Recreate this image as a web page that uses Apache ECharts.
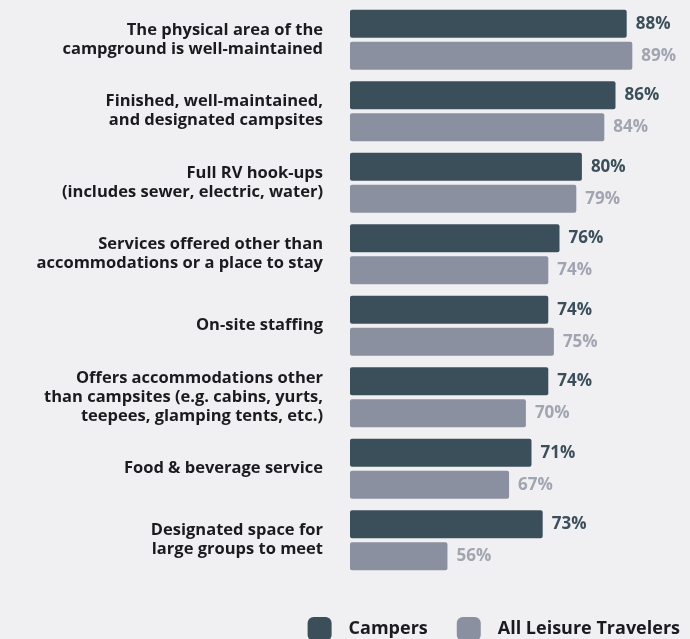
<!DOCTYPE html>
<html><head><meta charset="utf-8">
<script src="https://cdn.jsdelivr.net/npm/echarts@6/dist/echarts.min.js"></script>
<style>html,body{margin:0;padding:0;background:#f0f0f2;}#c{width:690px;height:639px;}</style>
</head><body><div id="c"></div>
<script>
const categories = [
  "The physical area of the\ncampground is well-maintained",
  "Finished, well-maintained,\nand designated campsites",
  "Full RV hook-ups\n(includes sewer, electric, water)",
  "Services offered other than\naccommodations or a place to stay",
  "On-site staffing",
  "Offers accommodations other\nthan campsites (e.g. cabins, yurts,\nteepees, glamping tents, etc.)",
  "Food & beverage service",
  "Designated space for\nlarge groups to meet"
];
const campers = [88, 86, 80, 76, 74, 74, 71, 73];
const allLeisure = [89, 84, 79, 74, 75, 70, 67, 56];
const seriesNames = ["Campers", "All Leisure Travelers"];

const FONT = "'Open Sans', Lato, sans-serif";
const chart = echarts.init(document.getElementById('c'));
chart.setOption({
  backgroundColor: '#f0f0f2',
  animation: false,
  grid: {left: 350, top: 4, width: 344, height: 572, containLabel: false},
  xAxis: {type: 'value', min: 38.6, max: 99.3, show: false},
  yAxis: {
    type: 'category', data: categories, inverse: true,
    axisLine: {show: false}, axisTick: {show: false},
    axisLabel: {margin: 27, fontFamily: FONT, fontWeight: 700, fontSize: 16.5, color: '#1b1b1f', lineHeight: 19, align: 'right', padding: [4, 0, 0, 0]}
  },
  legend: {
    right: 10, top: 617, padding: 0, itemWidth: 24, itemHeight: 24, itemGap: 29,
    icon: 'roundRect',
    textStyle: {fontFamily: FONT, fontWeight: 700, fontSize: 18, color: '#1b1b1f', padding: [3, 0, 0, 12]},
    data: seriesNames
  },
  series: [
    {
      name: seriesNames[0], type: 'bar', data: campers, barWidth: 28, barGap: '14%',
      itemStyle: {color: '#3b4f5b', borderRadius: 2},
      label: {show: true, position: 'right', distance: 9, formatter: '{c}%', fontFamily: FONT, fontWeight: 700, fontSize: 17, color: '#3b4f5b'}
    },
    {
      name: seriesNames[1], type: 'bar', data: allLeisure, barWidth: 28,
      itemStyle: {color: '#8a90a0', borderRadius: 2},
      label: {show: true, position: 'right', distance: 9, formatter: '{c}%', fontFamily: FONT, fontWeight: 700, fontSize: 17, color: '#a0a5b1'}
    }
  ]
});
</script>
</body></html>
